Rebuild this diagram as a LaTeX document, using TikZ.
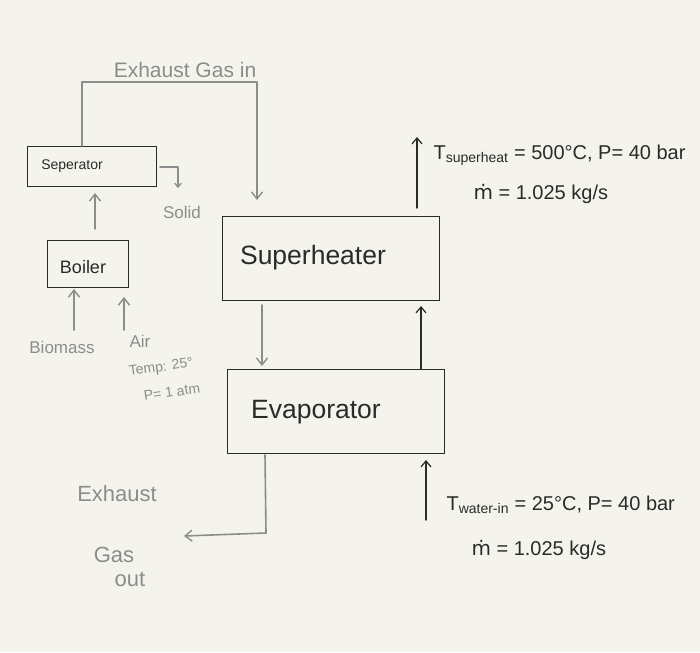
\documentclass[tikz,border=0pt]{standalone}
\usepackage{fontspec}
\setmainfont{Liberation Sans}
\newfontfamily\dvsans{DejaVu Sans}
\usetikzlibrary{arrows.meta}
\definecolor{paper}{HTML}{F5F4EC}
\definecolor{pen}{HTML}{8C8C8C}
\definecolor{ink}{HTML}{2A2A2A}
\newcommand{\mdotx}{{\dvsans ṁ}}
\begin{document}
\begin{tikzpicture}[x=1pt,y=-1pt,
  box/.style={draw=ink,line width=1.1pt,inner sep=0pt},
  gline/.style={draw=pen,line width=1.6pt,line cap=round,line join=round},
  garrow/.style={gline,-{Straight Barb[length=7pt,width=11pt,line width=1.4pt]}},
  barrow/.style={draw=ink,line width=1.4pt,line cap=round,-{Straight Barb[length=6pt,width=10pt,line width=1.2pt]}},
  glabel/.style={text=pen,font=\fontsize{17}{19}\selectfont},
  blabel/.style={text=ink,font=\fontsize{20}{22}\selectfont}]
\fill[paper] (0,0) rectangle (700,652);
\useasboundingbox (0,0) rectangle (700,652);

% boxes
\node[box,minimum width=129pt,minimum height=40pt,anchor=north west] (sep) at (27,146) {};
\node[text=ink,font=\fontsize{14}{16}\selectfont] at (72,166) {Seperator};
\node[box,minimum width=81pt,minimum height=47pt,anchor=north west] (boil) at (47,240) {};
\node[text=ink,font=\fontsize{18}{20}\selectfont] at (83,267) {Boiler};
\node[box,minimum width=217pt,minimum height=84pt,anchor=north west] (sup) at (222,216) {};
\node[text=ink,font=\fontsize{26.5}{29}\selectfont] at (313,258) {Superheater};
\node[box,minimum width=217pt,minimum height=84pt,anchor=north west] (evap) at (227,369) {};
\node[text=ink,font=\fontsize{26.5}{29}\selectfont] at (316,412) {Evaporator};

% exhaust gas in
\coordinate (e1) at (82,82);
\coordinate (e2) at (257,82);
\coordinate (e3) at (257,200);
\draw[gline] (sep.north -| 82,0) -- (e1) -- (e2);
\draw[garrow] (e2) -- (e3);
\node[glabel,font=\fontsize{21}{23}\selectfont] (exin) at (185,70) {Exhaust Gas in};

% solid
\coordinate (s1) at (160,167);
\coordinate (s2) at (178,167);
\coordinate (s3) at (178,188);
\draw[gline,-{Straight Barb[length=4pt,width=7pt,line width=1.2pt]}] (s1) -- (s2) -- (s3);
\node[glabel] (solid) at (182,212) {Solid};

% boiler to separator
\coordinate (b1) at (95,229);
\coordinate (b2) at (95,193);
\draw[garrow] (b1) -- (b2);

% biomass and air
\coordinate (bm1) at (74,330);
\coordinate (bm2) at (74,289);
\draw[garrow] (bm1) -- (bm2);
\node[glabel] (bio) at (62,347) {Biomass};
\coordinate (a1) at (124,330);
\coordinate (a2) at (124,297);
\draw[garrow] (a1) -- (a2);
\node[glabel] (air) at (140,341) {Air};
\node[glabel,font=\fontsize{14}{16}\selectfont,rotate=8] (temp) at (161,368) {Temp: 25°};
\node[glabel,font=\fontsize{14}{16}\selectfont,rotate=8] (patm) at (172,392) {P= 1 atm};

% superheater -> evaporator (gas)
\coordinate (g1) at (262,305);
\coordinate (g2) at (262,366);
\draw[garrow] (g1) -- (g2);

% evaporator -> superheater (steam)
\coordinate (w1) at (421,369);
\coordinate (w2) at (421,306);
\draw[barrow] (w1) -- (w2);

% superheated outlet
\coordinate (o1) at (417,208);
\coordinate (o2) at (417,137);
\draw[barrow] (o1) -- (o2);
\node[blabel,anchor=west] (tsup) at (430,155) {T\textsubscript{superheat} = 500°C, P= 40 bar};
\node[blabel,anchor=west] (msup) at (470,194) {\mdotx{} = 1.025 kg/s};

% water inlet
\coordinate (i1) at (426,520);
\coordinate (i2) at (426,460);
\draw[barrow] (i1) -- (i2);
\node[blabel,anchor=west] (twat) at (443,505) {T\textsubscript{water-in} = 25°C, P= 40 bar};
\node[blabel,anchor=west] (mwat) at (468,550) {\mdotx{} = 1.025 kg/s};

% exhaust out
\coordinate (x1) at (265,455);
\coordinate (x2) at (266,533);
\coordinate (x3) at (184,536);
\draw[gline] (x1) -- (x2);
\draw[garrow] (x2) -- (x3);
\node[glabel,font=\fontsize{22}{24}\selectfont] (exo) at (117,494) {Exhaust};
\node[glabel,font=\fontsize{22}{24}\selectfont] (gaso) at (114,555) {Gas};
\node[glabel,font=\fontsize{22}{24}\selectfont] (outo) at (130,579) {out};
\end{tikzpicture}
\end{document}
